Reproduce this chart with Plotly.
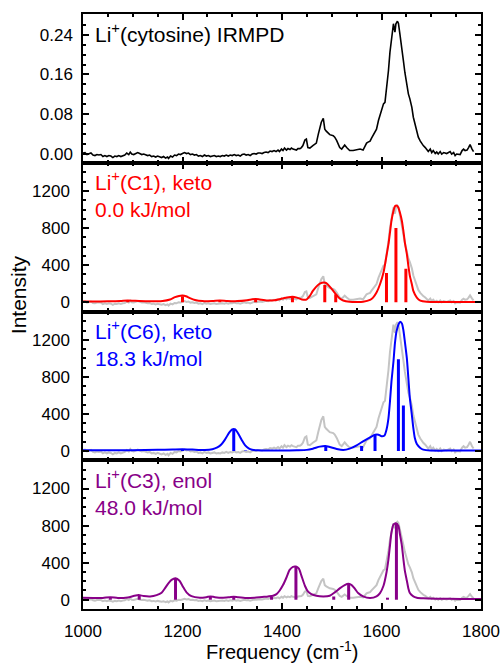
import plotly.graph_objects as go
from plotly.subplots import make_subplots

# ---------------- data ----------------
irmpd_freq = [1000, 1004, 1008, 1012, 1016, 1020, 1024, 1028, 1032, 1036, 1040, 1044, 1048, 1052, 1056,
              1060, 1064, 1068, 1072, 1076, 1080, 1084, 1088, 1092, 1095, 1098, 1102, 1106, 1110, 1114,
              1118, 1122, 1126, 1130, 1134, 1138, 1142, 1146, 1150, 1154, 1158, 1162, 1166, 1170, 1172,
              1176, 1180, 1184, 1188, 1192, 1196, 1200, 1204, 1208, 1212, 1216, 1220, 1224, 1228, 1232,
              1236, 1240, 1244, 1248, 1252, 1256, 1260, 1264, 1268, 1272, 1276, 1280, 1284, 1288, 1292,
              1296, 1300, 1304, 1308, 1312, 1316, 1320, 1324, 1328, 1332, 1336, 1340, 1344, 1348, 1352,
              1356, 1360, 1364, 1368, 1372, 1376, 1380, 1384, 1388, 1392, 1395, 1399, 1402, 1405, 1409,
              1412, 1416, 1419, 1422, 1426, 1429, 1432, 1436, 1439, 1442, 1446, 1449, 1452, 1456, 1462,
              1469, 1473, 1476, 1479, 1483, 1486, 1489, 1496, 1503, 1506, 1510, 1513, 1516, 1520, 1523,
              1526, 1530, 1533, 1536, 1543, 1550, 1557, 1563, 1567, 1570, 1573, 1577, 1580, 1584, 1587,
              1590, 1594, 1597, 1600, 1604, 1607, 1610, 1614, 1617, 1620, 1624, 1627, 1629, 1632, 1634,
              1637, 1641, 1644, 1647, 1651, 1654, 1657, 1661, 1664, 1667, 1671, 1674, 1678, 1681, 1684,
              1688, 1691, 1694, 1698, 1701, 1704, 1708, 1711, 1714, 1718, 1721, 1725, 1731, 1738, 1741,
              1745, 1748, 1751, 1758, 1762, 1765, 1768, 1772, 1775, 1778, 1782, 1785]
irmpd_int = [0.002, 0.003, -0.001, 0.001, 0.002, -0.002, -0.003, -0.001, -0.002, -0.001, -0.005, -0.003,
             -0.005, -0.003, -0.004, -0.007, -0.004, -0.005, -0.003, -0.005, -0.003, -0.002, 0.002, -0.001,
             0.004, 0.000, -0.001, 0.001, 0.003, 0.001, -0.001, 0.000, -0.002, -0.003, -0.002, -0.005,
             -0.004, -0.006, -0.004, -0.005, -0.007, -0.005, -0.008, -0.006, -0.009, -0.004, -0.006, -0.002,
             -0.003, 0.000, -0.001, 0.001, 0.003, 0.001, 0.002, -0.001, 0.000, -0.002, -0.001, -0.004,
             -0.003, -0.005, -0.002, -0.004, -0.003, -0.005, -0.004, -0.003, -0.005, -0.004, -0.005, -0.003,
             -0.004, -0.002, -0.004, -0.002, -0.003, -0.001, -0.003, -0.002, -0.004, -0.001, 0.000, -0.002,
             -0.001, -0.003, 0.000, 0.001, 0.000, 0.002, 0.002, 0.001, 0.003, 0.004, 0.003, 0.006,
             0.005, 0.007, 0.005, 0.008, 0.005, 0.010, 0.007, 0.012, 0.008, 0.011, 0.009, 0.012,
             0.010, 0.008, 0.008, 0.011, 0.011, 0.013, 0.017, 0.028, 0.030, 0.013, 0.012, 0.017,
             0.022, 0.040, 0.054, 0.064, 0.072, 0.050, 0.046, 0.039, 0.037, 0.034, 0.027, 0.020,
             0.013, 0.010, 0.013, 0.018, 0.013, 0.010, 0.007, 0.007, 0.008, 0.010, 0.008, 0.017,
             0.022, 0.024, 0.026, 0.032, 0.039, 0.047, 0.050, 0.068, 0.077, 0.087, 0.101, 0.104,
             0.127, 0.168, 0.205, 0.235, 0.262, 0.245, 0.262, 0.267, 0.263, 0.241, 0.215, 0.188,
             0.164, 0.138, 0.121, 0.111, 0.094, 0.074, 0.060, 0.044, 0.034, 0.026, 0.020, 0.017,
             0.013, 0.008, 0.005, 0.010, 0.003, 0.007, 0.001, 0.004, 0.000, 0.005, 0.000, 0.003,
             0.001, 0.005, 0.000, 0.003, -0.003, 0.000, -0.001, 0.007, 0.010, 0.007, 0.008, 0.013,
             0.019, 0.010, 0.005]

# scale of the experimental trace drawn in grey behind each computed spectrum
grey_scale = [3900, 5200, 3150]

# Li+(C1), keto
c1_freq = [1000, 1020, 1050, 1075, 1090, 1105, 1130, 1160, 1175, 1185, 1193, 1200, 1207, 1215, 1225,
           1240, 1260, 1275, 1290, 1310, 1330, 1340, 1347, 1355, 1370, 1385, 1400, 1410, 1421, 1430,
           1440, 1449, 1456, 1462, 1469, 1476, 1485, 1489, 1496, 1503, 1510, 1516, 1523, 1536, 1550,
           1563, 1577, 1583, 1590, 1597, 1604, 1610, 1614, 1617, 1620, 1624, 1627, 1631, 1634, 1637,
           1641, 1644, 1647, 1651, 1654, 1657, 1661, 1664, 1671, 1678, 1691, 1720, 1760, 1800]
c1_int = [8, 8, 10, 14, 20, 15, 10, 14, 30, 55, 68, 72, 65, 45, 25,
          12, 14, 20, 14, 12, 22, 32, 36, 30, 18, 22, 40, 52, 60, 50,
          30, 28, 68, 122, 169, 201, 213, 206, 169, 122, 75, 40, 18, 5, 3,
          5, 25, 50, 104, 194, 320, 500, 626, 751, 877, 985, 1035, 1042, 1020, 967,
          877, 769, 643, 518, 392, 284, 194, 122, 50, 18, 5, 3, 3, 3]
c1_stick_freq = [1090, 1200, 1275, 1347, 1421, 1486, 1508, 1610, 1629, 1649]
c1_stick_int = [15, 65, 15, 32, 58, 185, 85, 315, 800, 360]

# Li+(C6), keto
c6_freq = [1000, 1050, 1100, 1150, 1180, 1200, 1220, 1245, 1260, 1270, 1278, 1285, 1290, 1295, 1300,
           1303, 1306, 1310, 1315, 1320, 1326, 1333, 1340, 1350, 1370, 1400, 1430, 1450, 1462, 1476,
           1487, 1496, 1510, 1523, 1536, 1550, 1563, 1577, 1587, 1594, 1600, 1606, 1610, 1614, 1617,
           1620, 1624, 1627, 1630, 1634, 1637, 1641, 1644, 1647, 1651, 1654, 1657, 1661, 1664, 1667,
           1671, 1678, 1684, 1698, 1740, 1800]
c6_int = [8, 8, 9, 12, 16, 19, 15, 10, 18, 38, 70, 120, 165, 205, 233,
          238, 233, 205, 160, 110, 60, 28, 14, 8, 5, 5, 8, 12, 25, 47,
          54, 43, 22, 11, 25, 61, 104, 147, 175, 176, 160, 168, 229, 354, 533,
          748, 963, 1160, 1285, 1364, 1393, 1375, 1303, 1178, 999, 784, 569, 390, 247, 140,
          75, 33, 15, 5, 4, 4]
c6_stick_freq = [1200, 1303, 1327, 1488, 1560, 1587, 1634, 1644]
c6_stick_int = [12, 235, 6, 50, 55, 178, 990, 490]

# Li+(C3), enol
c3_freq = [1000, 1020, 1040, 1055, 1070, 1090, 1103, 1112, 1122, 1135, 1148, 1158, 1165, 1172, 1178,
           1186, 1194, 1201, 1208, 1218, 1235, 1248, 1256, 1265, 1280, 1295, 1303, 1312, 1328, 1345,
           1360, 1372, 1382, 1389, 1395, 1402, 1409, 1415, 1422, 1428, 1434, 1439, 1446, 1452, 1459,
           1469, 1483, 1496, 1506, 1516, 1526, 1534, 1540, 1547, 1553, 1563, 1577, 1590, 1597, 1604,
           1610, 1614, 1617, 1620, 1624, 1629, 1634, 1637, 1641, 1644, 1647, 1651, 1654, 1657, 1664,
           1671, 1684, 1711, 1760, 1800]
c3_int = [22, 20, 20, 28, 18, 25, 42, 50, 40, 36, 50, 75, 125, 180, 215,
          233, 205, 140, 80, 38, 22, 28, 36, 28, 22, 28, 32, 26, 18, 22,
          30, 36, 43, 61, 97, 158, 240, 319, 355, 358, 335, 260, 151, 90, 61,
          43, 36, 43, 79, 122, 158, 172, 158, 115, 72, 36, 18, 36, 72, 151,
          294, 438, 582, 725, 810, 826, 797, 707, 582, 438, 312, 205, 122, 72, 36,
          22, 15, 11, 9, 8]
c3_stick_freq = [1055, 1113, 1186, 1256, 1303, 1379, 1428, 1504, 1534, 1612, 1630]
c3_stick_int = [18, 40, 230, 30, 30, 30, 355, 35, 172, 22, 825]

labels = ["Li<sup>+</sup>(C1), keto<br>0.0 kJ/mol",
          "Li<sup>+</sup>(C6), keto<br>18.3 kJ/mol",
          "Li<sup>+</sup>(C3), enol<br>48.0 kJ/mol"]
colors = ["#ff0000", "#0000ff", "#880088"]

# ---------------- figure ----------------
FONT = "Liberation Sans, Arial, Helvetica, sans-serif"
fig = make_subplots(rows=4, cols=1, shared_xaxes=True, vertical_spacing=0)

fig.add_trace(go.Scatter(x=irmpd_freq, y=irmpd_int, mode="lines",
                         line=dict(color="black", width=1.6), showlegend=False), row=1, col=1)

calc = [(c1_freq, c1_int, c1_stick_freq, c1_stick_int),
        (c6_freq, c6_int, c6_stick_freq, c6_stick_int),
        (c3_freq, c3_int, c3_stick_freq, c3_stick_int)]

for i, (cf, ci, sf, si) in enumerate(calc):
    row = i + 2
    fig.add_trace(go.Scatter(x=irmpd_freq, y=[v * grey_scale[i] for v in irmpd_int], mode="lines",
                             line=dict(color="#c4c4c4", width=2), showlegend=False), row=row, col=1)
    sx, sy = [], []
    for f, h in zip(sf, si):
        sx += [f, f, None]
        sy += [0, h, None]
    fig.add_trace(go.Scatter(x=sx, y=sy, mode="lines", line=dict(color=colors[i], width=3),
                             showlegend=False), row=row, col=1)
    fig.add_trace(go.Scatter(x=cf, y=ci, mode="lines", line=dict(color=colors[i], width=2, shape="spline",
                                                                  smoothing=0.6),
                             showlegend=False), row=row, col=1)

axis_common = dict(showline=True, linecolor="black", linewidth=1.5, mirror="allticks",
                   ticks="inside", ticklen=6, tickwidth=1.5, tickcolor="black",
                   showgrid=False, zeroline=False, automargin=False,
                   tickfont=dict(family=FONT, size=17, color="black"))

for r in range(1, 5):
    fig.update_xaxes(range=[1000, 1800], tick0=1000, dtick=200,
                     minor=dict(ticks="inside", ticklen=3.5, dtick=50, tick0=1000, tickcolor="black",
                                tickwidth=1.5, showgrid=False),
                     ticklabelstandoff=6, **axis_common, row=r, col=1)

fig.update_yaxes(range=[-0.0175, 0.2816], tick0=0, dtick=0.08, tickformat=".2f",
                 minor=dict(ticks="inside", ticklen=3.5, dtick=0.02, tick0=0, tickcolor="black",
                            tickwidth=1.5, showgrid=False),
                 ticklabelstandoff=5, **axis_common, row=1, col=1)
for r in range(2, 5):
    fig.update_yaxes(range=[-100, 1505], tick0=0, dtick=400,
                     minor=dict(ticks="inside", ticklen=3.5, dtick=100, tick0=0, tickcolor="black",
                                tickwidth=1.5, showgrid=False),
                     ticklabelstandoff=8, **axis_common, row=r, col=1)

annots = [dict(text="Li<sup>+</sup>(cytosine) IRMPD", xref="x domain", yref="y domain",
               x=0.026, y=0.975, xanchor="left", yanchor="top", align="left", showarrow=False,
               font=dict(family=FONT, size=21, color="black"))]
for i in range(3):
    n = i + 2
    annots.append(dict(text=labels[i], xref=f"x{n} domain", yref=f"y{n} domain",
                       x=0.026, y=0.975, xanchor="left", yanchor="top", align="left", showarrow=False,
                       font=dict(family=FONT, size=21, color=colors[i])))
annots.append(dict(text="Intensity", xref="paper", yref="paper", x=-0.16, y=0.528,
                   xanchor="center", yanchor="middle", textangle=-90, showarrow=False,
                   font=dict(family=FONT, size=21, color="black")))
annots.append(dict(text="Frequency (cm<sup>-1</sup>)", xref="paper", yref="paper", x=0.5, y=-0.069,
                   xanchor="center", yanchor="middle", showarrow=False,
                   font=dict(family=FONT, size=20, color="black")))

fig.update_layout(width=501, height=666, margin=dict(l=83, r=20, t=14, b=57, autoexpand=False),
                  paper_bgcolor="white", plot_bgcolor="white", annotations=annots,
                  font=dict(family=FONT, color="black"))

fig.write_html("out.html")
